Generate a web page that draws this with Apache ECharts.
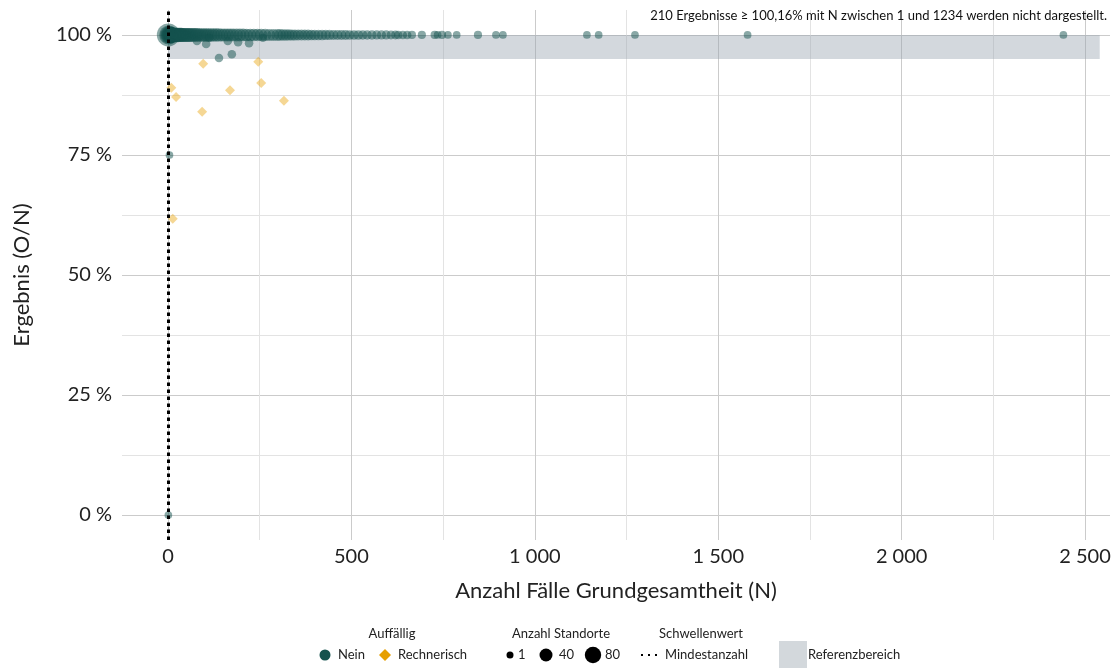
<!DOCTYPE html>
<html>
<head>
<meta charset="utf-8">
<script src="https://cdn.jsdelivr.net/npm/echarts@6/dist/echarts.min.js"></script>
<style>
  html, body { margin: 0; padding: 0; background: #fff; }
  #chart { width: 1115px; height: 668px; }
</style>
</head>
<body>
<div id="chart"></div>
<script>
// Auffällig = Nein, Ergebnis 100 %
const neinN100 = [1, 2, 3, 4, 5, 6, 7, 8, 9, 10, 11, 12, 14, 16, 18, 20, 22, 25, 28, 31,
  34, 37, 40, 44, 48, 52, 56, 60, 65, 70, 75, 80, 86, 92, 98, 104, 110, 117, 124, 131,
  138, 146, 154, 162, 170, 178, 187, 196, 205, 214, 224, 234, 244, 254, 265, 276, 287, 298, 306, 314,
  322, 330, 338, 346, 355, 364, 373, 382, 391, 400, 410, 420, 430, 440, 451, 462, 473, 484, 495, 507,
  519, 531, 543, 556, 569, 582, 595, 608, 620, 628, 640, 652, 665, 692, 727, 735, 747, 763, 787, 845,
  894, 913, 1142, 1174, 1273, 1580, 2441]
const neinSites100 = [190, 110, 90, 75, 65, 60, 55, 55, 50, 50, 50, 48, 48, 46, 46, 45, 45, 44, 44, 42,
  42, 42, 40, 40, 40, 40, 38, 38, 38, 36, 36, 36, 35, 35, 34, 34, 33, 33, 32, 32,
  32, 30, 30, 30, 30, 28, 28, 28, 27, 26, 26, 25, 24, 24, 23, 22, 21, 20, 19, 18,
  17, 16, 15, 15, 14, 14, 13, 13, 12, 12, 11, 11, 10, 10, 9, 9, 8, 8, 7, 7,
  7, 6, 6, 6, 5, 5, 5, 4, 4, 3, 3, 3, 2, 2, 2, 1, 2, 1, 1, 2,
  1, 1, 1, 1, 1, 1, 1]

// Auffällig = Nein, Ergebnis < 100 %
const neinN = [1, 4, 79, 104, 112, 139, 163, 174, 191, 221, 259]
const neinRate = [0, 75, 98.75, 98.1, 99.4, 95.2, 98.75, 96.0, 98.5, 98.3, 99.4]
const neinSites = [1, 1, 3, 3, 2, 3, 3, 3, 3, 3, 2]

// Auffällig = Rechnerisch
const rechnN = [9, 13, 22, 93, 96, 169, 246, 254, 316]
const rechnRate = [89.0, 61.7, 87.1, 84.0, 94.0, 88.5, 94.4, 90.0, 86.3]

// axes and reference
const xMajor = [0, 500, 1000, 1500, 2000, 2500]
const xMinor = [250, 750, 1250, 1750, 2250]
const yMajor = [0, 25, 50, 75, 100]
const yMinor = [12.5, 37.5, 62.5, 87.5]
const mindestanzahl = 1
const referenzbereich = [95, 100]
const referenzN = [0, 2540]
const legendSites = [1, 40, 80]

const xMin = -125.4
const xMax = 2568
const yMin = -5.2
const yMax = 105.2

const green = '#14524d'
const orange = '#E69F00'
const txt = '#222222'
const font = 'Lato, "Open Sans", sans-serif'
const lf = '13px ' + font

const dotSize = (s) => 6.5 + 1.2 * Math.sqrt(s)
const fmtN = (v) => String(v).replace(/\B(?=(\d{3})+(?!\d))/g, ' ')

const chart = echarts.init(document.getElementById('chart'))

const pts100 = neinN100.map((n, i) => [n, 100, neinSites100[i]])
const ptsNein = neinN.map((n, i) => [n, neinRate[i], neinSites[i]])
const ptsRechn = rechnN.map((n, i) => [n, rechnRate[i], 1])

// legend drawn as graphic
const ly = 655
const ty = 634
const legend = [
  { type: 'text', style: { x: 392, y: ty, text: 'Auffällig', fill: txt, font: lf, align: 'center', verticalAlign: 'middle' } },
  { type: 'circle', shape: { cx: 325, cy: ly, r: 5.5 }, style: { fill: green } },
  { type: 'text', style: { x: 338, y: ly, text: 'Nein', fill: txt, font: lf, verticalAlign: 'middle' } },
  { type: 'polygon', shape: { points: [[385, ly - 6], [391, ly], [385, ly + 6], [379, ly]] }, style: { fill: orange } },
  { type: 'text', style: { x: 398, y: ly, text: 'Rechnerisch', fill: txt, font: lf, verticalAlign: 'middle' } },

  { type: 'text', style: { x: 561, y: ty, text: 'Anzahl Standorte', fill: txt, font: lf, align: 'center', verticalAlign: 'middle' } },
  { type: 'circle', shape: { cx: 510, cy: ly, r: 3.5 }, style: { fill: '#000' } },
  { type: 'text', style: { x: 518, y: ly, text: String(legendSites[0]), fill: txt, font: lf, verticalAlign: 'middle' } },
  { type: 'circle', shape: { cx: 546, cy: ly, r: 6.5 }, style: { fill: '#000' } },
  { type: 'text', style: { x: 559, y: ly, text: String(legendSites[1]), fill: txt, font: lf, verticalAlign: 'middle' } },
  { type: 'circle', shape: { cx: 593, cy: ly, r: 8.2 }, style: { fill: '#000' } },
  { type: 'text', style: { x: 605, y: ly, text: String(legendSites[2]), fill: txt, font: lf, verticalAlign: 'middle' } },

  { type: 'text', style: { x: 701, y: ty, text: 'Schwellenwert', fill: txt, font: lf, align: 'center', verticalAlign: 'middle' } },
  { type: 'line', shape: { x1: 641, y1: ly, x2: 661, y2: ly }, style: { stroke: '#000', lineWidth: 2, lineDash: [2, 5] } },
  { type: 'text', style: { x: 665, y: ly, text: 'Mindestanzahl', fill: txt, font: lf, verticalAlign: 'middle' } },

  { type: 'rect', shape: { x: 779, y: 641, width: 28, height: 28 }, style: { fill: '#d3d8dc' } },
  { type: 'text', style: { x: 808, y: ly, text: 'Referenzbereich', fill: txt, font: lf, verticalAlign: 'middle' } },

  { type: 'text', z: 100, style: { x: 1107, y: 16, text: '210 Ergebnisse ≥ 100,16% mit N zwischen 1 und 1234 werden nicht dargestellt.', fill: '#111', font: '13px ' + font, align: 'right', verticalAlign: 'middle' } }
]

chart.setOption({
  animation: false,
  backgroundColor: '#ffffff',
  textStyle: { fontFamily: font },
  grid: { left: 122, right: 5, top: 10, bottom: 128 },
  xAxis: [
    {
      type: 'value',
      min: xMin,
      max: xMax,
      axisLine: { show: false },
      axisTick: { show: false, customValues: xMajor },
      axisLabel: { customValues: xMajor, formatter: fmtN, fontSize: 20, color: txt, margin: 7 },
      splitLine: { show: true, lineStyle: { color: '#cbcbcb', width: 1 } },
      name: 'Anzahl Fälle Grundgesamtheit (N)',
      nameLocation: 'middle',
      nameGap: 40,
      nameTextStyle: { fontSize: 22, color: txt }
    },
    {
      type: 'value',
      position: 'top',
      min: xMin,
      max: xMax,
      axisLine: { show: false },
      axisTick: { show: false, customValues: xMinor },
      axisLabel: { show: false },
      splitLine: { show: true, lineStyle: { color: '#e3e3e3', width: 1 } }
    }
  ],
  yAxis: [
    {
      type: 'value',
      min: yMin,
      max: yMax,
      axisLine: { show: false },
      axisTick: { show: false, customValues: yMajor },
      axisLabel: { customValues: yMajor, formatter: (v) => v + ' %', fontSize: 20, color: txt, margin: 10 },
      splitLine: { show: true, lineStyle: { color: '#cbcbcb', width: 1 } },
      name: 'Ergebnis (O/N)',
      nameLocation: 'middle',
      nameGap: 89,
      nameTextStyle: { fontSize: 22, color: txt }
    },
    {
      type: 'value',
      position: 'right',
      min: yMin,
      max: yMax,
      axisLine: { show: false },
      axisTick: { show: false, customValues: yMinor },
      axisLabel: { show: false },
      splitLine: { show: true, lineStyle: { color: '#e3e3e3', width: 1 } }
    }
  ],
  series: [
    {
      name: 'Referenzbereich',
      type: 'scatter',
      data: [],
      z: 1,
      silent: true,
      markArea: {
        silent: true,
        itemStyle: { color: 'rgba(150,163,175,0.42)' },
        data: [[
          { xAxis: referenzN[0], yAxis: referenzbereich[0] },
          { xAxis: referenzN[1], yAxis: referenzbereich[1] }
        ]]
      }
    },
    {
      name: 'Nein',
      type: 'scatter',
      z: 3,
      clip: false,
      data: pts100.concat(ptsNein),
      symbol: 'circle',
      symbolSize: (d) => dotSize(d[2]),
      itemStyle: { color: green, opacity: 0.5 }
    },
    {
      name: 'Rechnerisch',
      type: 'scatter',
      z: 3,
      clip: false,
      data: ptsRechn,
      symbol: 'diamond',
      symbolSize: 10,
      itemStyle: { color: orange, opacity: 0.42 }
    },
    {
      name: 'Mindestanzahl',
      type: 'scatter',
      data: [],
      z: 4,
      markLine: {
        silent: true,
        symbol: ['none', 'none'],
        label: { show: false },
        lineStyle: { color: '#000', width: 3, type: [3.5, 3.5], opacity: 1 },
        emphasis: { disabled: true },
        data: [{ xAxis: mindestanzahl }]
      }
    }
  ],
  graphic: legend
})
</script>
</body>
</html>
